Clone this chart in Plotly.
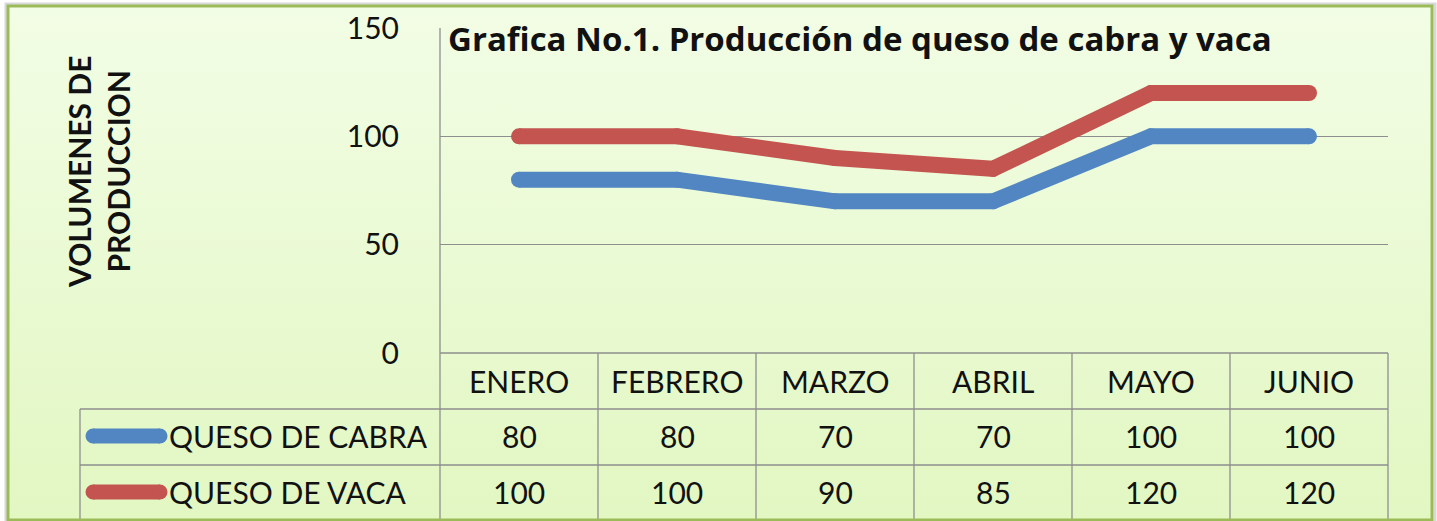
import base64
import plotly.graph_objects as go

months = ["ENERO", "FEBRERO", "MARZO", "ABRIL", "MAYO", "JUNIO"]
series_names = ["QUESO DE CABRA", "QUESO DE VACA"]
cabra = [80, 80, 70, 70, 100, 100]
vaca = [100, 100, 90, 85, 120, 120]
y_ticks = [0, 50, 100, 150]
title_text = "Grafica No.1. Producción de queso de cabra y vaca"
y_title = "VOLUMENES DE<br>PRODUCCION"

W, H = 1437, 521
FONT = "Lato"
TFONT = "Open Sans"
TXT = "#111111"
GRID = "#8E8E8E"
colors = ["#5286C3", "#C3544F"]
values = [cabra, vaca]


def px(x):
    return x / W


def py(y):
    return 1 - y / H


# plot area in pixels
L, R, T, B = 440, 1388, 28, 353
ROW1, ROW2, ROWEND = 409, 465, 521
LEGL = 80

fig = go.Figure()
for name, vals, c in zip(series_names, values, colors):
    fig.add_trace(go.Scatter(
        x=list(range(len(months))), y=vals, mode="lines+markers", name=name,
        line=dict(color=c, width=16),
        marker=dict(color=c, size=16, line=dict(width=0)),
        showlegend=False, hoverinfo="x+y",
    ))

svg = ('<svg xmlns="http://www.w3.org/2000/svg" width="1424" height="514" preserveAspectRatio="none">'
       '<defs><linearGradient id="g" x1="0" y1="0" x2="0" y2="1">'
       '<stop offset="0" stop-color="#F2FDE5"/><stop offset="1" stop-color="#E2F7C2"/>'
       '</linearGradient></defs><rect width="1424" height="514" fill="url(#g)"/></svg>')
src = "data:image/svg+xml;base64," + base64.b64encode(svg.encode()).decode()

shapes = []
# shadow
shapes.append(dict(type="rect", xref="paper", yref="paper", x0=px(6), x1=px(1435), y0=py(4), y1=py(523),
                   line=dict(color="#D8D8D8", width=3), layer="below"))
# border
shapes.append(dict(type="rect", xref="paper", yref="paper", x0=px(8), x1=px(1432), y0=py(6), y1=py(520),
                   line=dict(color="#9BBB59", width=3), layer="above"))


def hline(x0, x1, y):
    shapes.append(dict(type="line", xref="paper", yref="paper", x0=px(x0), x1=px(x1), y0=py(y), y1=py(y),
                       line=dict(color=GRID, width=1.3), layer="below"))


def vline(x, y0, y1):
    shapes.append(dict(type="line", xref="paper", yref="paper", x0=px(x), x1=px(x), y0=py(y0), y1=py(y1),
                       line=dict(color=GRID, width=1.3), layer="below"))


hline(L, R, B)
hline(L, R, ROW1)
hline(LEGL, L, ROW1)
hline(LEGL, R, ROW2)
vline(LEGL, ROW1, ROWEND)
vline(L, T, ROWEND)
colw = (R - L) / len(months)
for i in range(1, len(months) + 1):
    vline(L + i * colw, B, ROWEND)

annotations = []
annotations.append(dict(text=f"<b>{title_text}</b>", xref="paper", yref="paper", x=px(446), y=py(39),
                        xanchor="left", yanchor="middle", showarrow=False,
                        font=dict(family=TFONT, size=33, color=TXT)))
annotations.append(dict(text=f"<b>{y_title}</b>", xref="paper", yref="paper", x=px(98), y=py(172),
                        xanchor="center", yanchor="middle", showarrow=False, textangle=-90,
                        font=dict(family=FONT, size=30, color=TXT)))
for i, m in enumerate(months):
    annotations.append(dict(text=m, xref="x", yref="paper", x=i, y=py(381), showarrow=False,
                            xanchor="center", yanchor="middle", font=dict(family=FONT, size=30, color=TXT)))
rows_y = [436, 492]
for r, (name, vals, c) in enumerate(zip(series_names, values, colors)):
    yy = rows_y[r]
    sw_x0, sw_x1, rad = 93, 160, 7.5
    shapes.append(dict(type="line", xref="paper", yref="paper", x0=px(sw_x0), x1=px(sw_x1), y0=py(yy),
                       y1=py(yy), line=dict(color=c, width=15), layer="above"))
    for cx in (sw_x0, sw_x1):
        shapes.append(dict(type="circle", xref="paper", yref="paper", x0=px(cx - rad), x1=px(cx + rad),
                           y0=py(yy + rad), y1=py(yy - rad), fillcolor=c, line=dict(width=0), layer="above"))
    annotations.append(dict(text=name, xref="paper", yref="paper", x=px(167), y=py(yy), showarrow=False,
                            xanchor="left", yanchor="middle", font=dict(family=FONT, size=30, color=TXT)))
    for i, v in enumerate(vals):
        annotations.append(dict(text=str(v), xref="x", yref="paper", x=i, y=py(yy), showarrow=False,
                                xanchor="center", yanchor="middle", font=dict(family=FONT, size=30, color=TXT)))

fig.update_layout(
    width=W, height=H,
    margin=dict(l=0, r=0, t=0, b=0, pad=0, autoexpand=False),
    paper_bgcolor="white",
    plot_bgcolor="rgba(0,0,0,0)",
    images=[dict(source=src, xref="paper", yref="paper", x=px(8), y=py(6), sizex=px(1432) - px(8),
                 sizey=py(6) - py(520), sizing="stretch", layer="below", xanchor="left", yanchor="top")],
    shapes=shapes,
    annotations=annotations,
    xaxis=dict(domain=[px(L), px(R)], range=[-0.5, len(months) - 0.5], showticklabels=False,
               showgrid=False, zeroline=False, showline=False, fixedrange=True, automargin=False),
    yaxis=dict(domain=[py(B), py(T)], range=[0, 150], tickvals=y_ticks, showgrid=True,
               gridcolor=GRID, gridwidth=1.3, zeroline=False, showline=False,
               ticks="outside", ticklen=34, tickcolor="rgba(0,0,0,0)", automargin=False,
               tickfont=dict(family=FONT, size=30, color=TXT), fixedrange=True),
    showlegend=False,
)

fig.write_html("out.html", config={"displayModeBar": False},
               post_script="document.body.style.margin='0';document.body.style.overflow='hidden';")
